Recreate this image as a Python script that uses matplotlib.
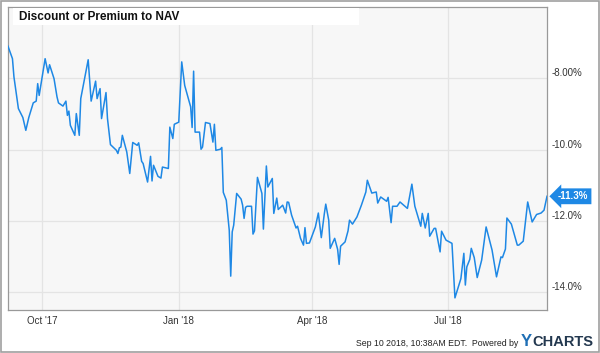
import pandas as pd
import matplotlib.pyplot as plt
from matplotlib.patches import Rectangle
from matplotlib.transforms import ScaledTranslation

plt.rcParams['font.family'] = ['Liberation Sans', 'DejaVu Sans']

# discount / premium to NAV, %
dates = [
    '2017-09-08', '2017-09-11', '2017-09-12', '2017-09-15', '2017-09-18', '2017-09-20',
    '2017-09-22', '2017-09-25', '2017-09-27', '2017-09-28', '2017-09-29', '2017-10-03',
    '2017-10-05', '2017-10-06', '2017-10-09', '2017-10-11', '2017-10-12', '2017-10-15',
    '2017-10-17', '2017-10-18', '2017-10-19', '2017-10-20', '2017-10-23', '2017-10-24',
    '2017-10-26', '2017-10-27', '2017-11-01', '2017-11-03', '2017-11-06', '2017-11-07',
    '2017-11-09', '2017-11-10', '2017-11-13', '2017-11-14', '2017-11-16', '2017-11-20',
    '2017-11-21', '2017-11-22', '2017-11-23', '2017-11-24', '2017-11-27', '2017-11-29',
    '2017-12-01', '2017-12-04', '2017-12-05', '2017-12-07', '2017-12-08', '2017-12-11',
    '2017-12-13', '2017-12-14', '2017-12-15', '2017-12-18', '2017-12-20', '2017-12-21',
    '2017-12-25', '2017-12-26', '2017-12-28', '2017-12-29', '2018-01-01', '2018-01-03',
    '2018-01-05', '2018-01-09', '2018-01-10', '2018-01-11', '2018-01-12', '2018-01-15',
    '2018-01-16', '2018-01-17', '2018-01-19', '2018-01-22', '2018-01-24', '2018-01-25',
    '2018-01-26', '2018-01-29', '2018-01-30', '2018-01-31', '2018-02-02', '2018-02-04',
    '2018-02-05', '2018-02-06', '2018-02-07', '2018-02-09', '2018-02-12', '2018-02-13',
    '2018-02-14', '2018-02-15', '2018-02-16', '2018-02-19', '2018-02-20', '2018-02-21',
    '2018-02-23', '2018-02-26', '2018-02-27', '2018-03-01', '2018-03-02', '2018-03-05',
    '2018-03-06', '2018-03-08', '2018-03-09', '2018-03-12', '2018-03-14', '2018-03-15',
    '2018-03-16', '2018-03-18', '2018-03-21', '2018-03-22', '2018-03-24', '2018-03-26',
    '2018-03-27', '2018-03-28', '2018-03-30', '2018-04-03', '2018-04-05', '2018-04-07',
    '2018-04-09', '2018-04-10', '2018-04-12', '2018-04-13', '2018-04-16', '2018-04-18',
    '2018-04-19', '2018-04-20', '2018-04-23', '2018-04-25', '2018-04-26', '2018-04-28',
    '2018-05-01', '2018-05-04', '2018-05-07', '2018-05-08', '2018-05-11', '2018-05-14',
    '2018-05-15', '2018-05-17', '2018-05-21', '2018-05-22', '2018-05-24', '2018-05-25',
    '2018-05-28', '2018-05-30', '2018-06-04', '2018-06-07', '2018-06-09', '2018-06-13',
    '2018-06-14', '2018-06-16', '2018-06-18', '2018-06-19', '2018-06-22', '2018-06-23',
    '2018-06-26', '2018-06-27', '2018-06-30', '2018-07-04', '2018-07-06', '2018-07-10',
    '2018-07-12', '2018-07-13', '2018-07-14', '2018-07-16', '2018-07-17', '2018-07-19',
    '2018-07-21', '2018-07-24', '2018-07-26', '2018-07-27', '2018-07-31', '2018-08-03',
    '2018-08-06', '2018-08-07', '2018-08-09', '2018-08-10', '2018-08-13', '2018-08-17',
    '2018-08-18', '2018-08-21', '2018-08-24', '2018-08-27', '2018-08-30', '2018-09-02',
    '2018-09-04', '2018-09-06',
]
values = [
    -7.10, -7.45, -7.96, -8.85, -9.10, -9.46,
    -9.10, -8.69, -8.64, -8.15, -8.48, -7.45,
    -7.85, -7.62, -8.01, -8.52, -8.69, -8.78,
    -8.64, -9.04, -8.92, -9.32, -9.60, -8.99,
    -9.60, -8.57, -7.48, -8.64, -8.08, -8.57,
    -8.29, -9.13, -8.40, -9.13, -9.86, -10.02,
    -10.11, -9.95, -9.93, -9.60, -10.07, -10.67,
    -9.80, -9.88, -9.81, -10.33, -10.39, -10.91,
    -10.19, -10.88, -10.44, -10.75, -10.80, -10.49,
    -10.53, -9.37, -9.69, -9.29, -9.23, -7.54,
    -8.20, -8.80, -9.38, -7.80, -9.51, -9.51,
    -9.99, -9.93, -9.24, -9.27, -9.79, -9.29,
    -10.02, -9.99, -9.94, -11.20, -11.42, -12.26,
    -13.55, -12.31, -12.12, -11.23, -11.39, -11.56,
    -11.93, -11.62, -11.59, -11.59, -12.37, -12.28,
    -10.78, -11.23, -12.23, -10.46, -11.05, -10.81,
    -11.79, -11.36, -11.68, -11.56, -11.78, -11.47,
    -11.48, -11.84, -12.20, -12.15, -12.49, -12.68,
    -12.19, -12.63, -12.62, -12.17, -11.78, -12.47,
    -11.81, -11.53, -11.98, -12.77, -12.49, -12.80,
    -13.22, -12.71, -12.59, -12.28, -11.98, -12.09,
    -11.89, -11.56, -11.19, -10.86, -11.22, -11.19,
    -11.50, -11.33, -11.45, -11.34, -12.05, -11.59,
    -11.59, -11.47, -11.65, -10.97, -11.59, -12.15,
    -11.79, -12.20, -11.79, -12.43, -12.21, -12.21,
    -12.87, -12.29, -12.54, -12.63, -14.16, -13.62,
    -12.91, -13.80, -13.29, -13.08, -12.77, -13.03,
    -13.59, -13.10, -12.49, -12.17, -12.82, -13.57,
    -13.01, -13.03, -12.79, -11.92, -12.09, -12.68,
    -12.68, -12.57, -11.47, -12.03, -11.82, -11.78,
    -11.70, -11.31,
]
y_ticks = [-8, -10, -12, -14]
y_labels = ['-8.00%', '-10.0%', '-12.0%', '-14.0%']
x_ticks = ['2017-10-01', '2018-01-01', '2018-04-01', '2018-07-01']
x_labels = ["Oct '17", "Jan '18", "Apr '18", "Jul '18"]
title = 'Discount or Premium to NAV'
last_label = '-11.3%'

blue = '#1e88e5'
d = pd.to_datetime(dates)

fig = plt.figure(figsize=(6, 3.53), dpi=100)
fig.patch.set_facecolor('white')
ax = fig.add_axes([8 / 600, 1 - 310 / 353, 539 / 600, 303 / 353])
ax.set_facecolor('#f7f7f7')

ax.plot(d, values, color=blue, lw=1.1, zorder=3)

ax.set_xlim(pd.Timestamp('2017-09-08'), pd.Timestamp('2018-09-06'))
ax.set_ylim(-14.5, -6.0)

ax.set_yticks(y_ticks)
ax.set_yticklabels(y_labels)
ax.set_xticks(pd.to_datetime(x_ticks))
ax.set_xticklabels(x_labels)
ax.yaxis.tick_right()
ax.tick_params(axis='y', length=0, pad=3, labelsize=7, labelcolor='#333333')
ax.tick_params(axis='x', length=0, pad=4, labelsize=7, labelcolor='#333333')
up = ScaledTranslation(0, 6 / 100, fig.dpi_scale_trans)
for lab in ax.get_yticklabels():
    lab.set_transform(lab.get_transform() + up)

ax.grid(True, color='#e4e4e4', lw=0.9)
ax.set_axisbelow(True)
for s in ax.spines.values():
    s.set_color('#999999')
    s.set_linewidth(0.9)

# legend / title strip
fig.patches.append(Rectangle((13 / 600, 1 - 25 / 353), 346 / 600, 17 / 353,
                             transform=fig.transFigure, fc='white', ec='none', zorder=4))
fig.text(19 / 600, 1 - 16.5 / 353, title, fontsize=8.5, fontweight='bold',
         color='#111111', va='center', ha='left', zorder=5)

# last value tag
ax.annotate(last_label, xy=(1.0, (values[-1] + 14.5) / 8.5), xycoords='axes fraction',
            xytext=(8, 0), textcoords='offset points', fontsize=7, fontweight='bold',
            color='white', va='center', ha='left',
            bbox=dict(boxstyle='larrow,pad=0.3', fc=blue, ec='none'), annotation_clip=False)

# footer
fig.text(518 / 600, 1 - 343 / 353, 'Sep 10 2018, 10:38AM EDT.  Powered by',
         fontsize=6.3, color='#222222', ha='right', va='center')
fig.text(521 / 600, 1 - 342 / 353, 'Y', fontsize=12, fontweight='bold',
         color='#1f6fb5', ha='left', va='center')
fig.text(532 / 600, 1 - 342 / 353, 'CHARTS', fontsize=10.5, fontweight='bold',
         color='#23384f', ha='left', va='center')

fig.patches.append(Rectangle((0.001, 0.002), 0.997, 0.995, transform=fig.transFigure,
                             fill=False, ec='#a0a0a0', lw=1.2))

fig.savefig('out.png', dpi=100, facecolor='white')
